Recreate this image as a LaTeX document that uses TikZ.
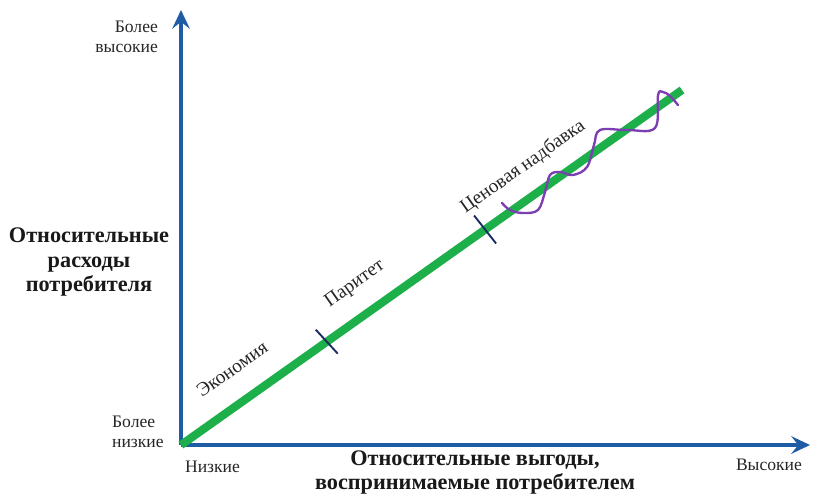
\documentclass[tikz,border=0pt]{standalone}
\usepackage{fontspec}
\setmainfont{Liberation Serif}
\usepackage{tikz}
\usetikzlibrary{arrows.meta,calc}
\definecolor{AxisBlue}{HTML}{1F5CA6}
\definecolor{LineGreen}{HTML}{1DAF4A}
\definecolor{TickNavy}{HTML}{1B2A5E}
\definecolor{WavePurple}{HTML}{7B3FB2}

\begin{document}
\begin{tikzpicture}[
    x=0.03cm, y=-0.03cm,
    axis/.style={draw=AxisBlue, line width=3.2pt, -{Stealth[length=16pt, width=15pt, inset=6pt]}},
    valueline/.style={draw=LineGreen, line width=7pt},
    tickmark/.style={draw=TickNavy, line width=1.6pt},
    lbl/.style={font=\fontsize{15}{17}\selectfont, align=center, text=black!85},
    title/.style={font=\fontsize{19}{20.5}\selectfont\bfseries, align=center, text=black!90},
    zone/.style={font=\fontsize{16.5}{18}\selectfont, rotate=35.3, text=black!85}
  ]
    \useasboundingbox (0,0) rectangle (818,493);
    \coordinate (origin) at (181,445);
    \coordinate (ytop) at (181,10);
    \coordinate (xend) at (810,445);
    \coordinate (vend) at (682,90);

    % axes
    \draw[axis] (origin) -- (ytop);
    \draw[axis] (origin) -- (xend);

    % value line with ticks
    \draw[valueline] (origin) -- (vend)
      coordinate[pos=0.291] (econ)
      coordinate[pos=0.607] (parity);
    \draw[tickmark] ($(econ)+(-11,-12)$) -- ($(econ)+(11,12)$);
    \draw[tickmark] ($(parity)+(-11,-14)$) -- ($(parity)+(11,14)$);

    % premium wave
    \draw[WavePurple, line width=2pt, line cap=round] plot[smooth, tension=0.6] coordinates {
      (502,203) (510,210) (523,213) (538,210) (545,192) (550,175) (560,172) (573,175)
      (587,167) (594,145) (600,130) (627,130) (655,128) (658,95) (663,92) (670,96) (678,105)};

    % zone labels
    \node[zone] (economy) at (232,369) {Экономия};
    \node[zone] (paritylbl) at (355,284) {Паритет};
    \node[zone] (premium) at (523,167) {Ценовая надбавка};

    % axis labels
    \node[lbl, align=right, anchor=east] (yhigh) at (162,37) {Более\\высокие};
    \node[lbl, align=left, anchor=west] (ylow) at (108,432) {Более\\низкие};
    \node[lbl, anchor=west] (xlow) at (181,467) {Низкие};
    \node[lbl, anchor=east] (xhigh) at (806,465) {Высокие};
    \node[title] (ytitle) at (89,262) {Относительные\\расходы\\потребителя};
    \node[title] (xtitle) at (475,472) {Относительные выгоды,\\воспринимаемые потребителем};
\end{tikzpicture}
\end{document}
